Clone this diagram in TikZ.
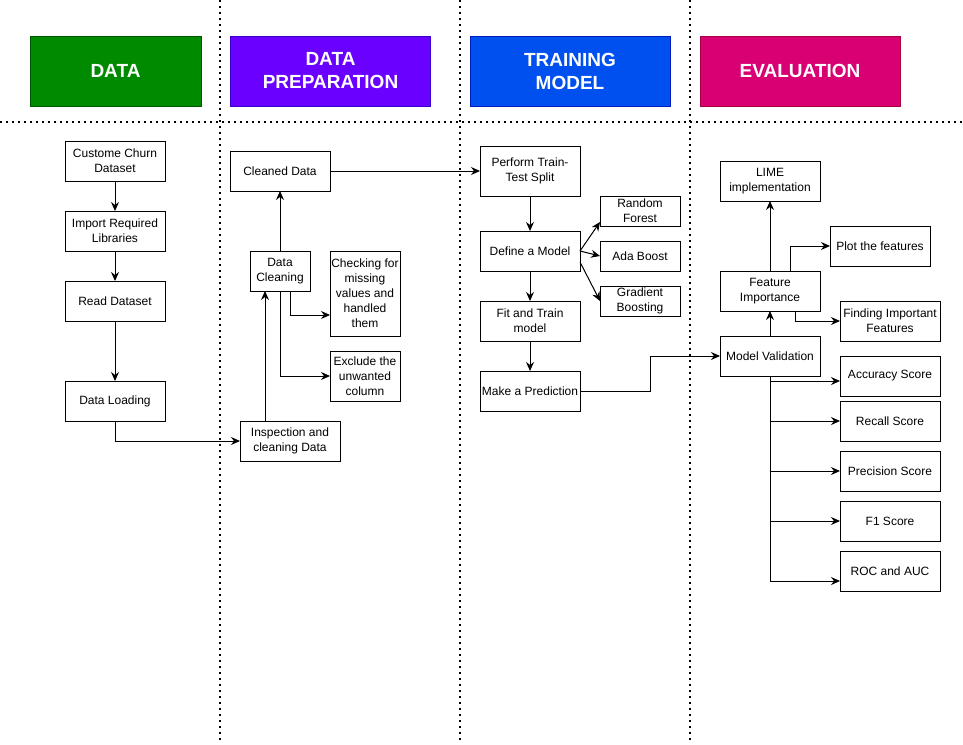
\documentclass[tikz,border=0pt]{standalone}
\usepackage{fontspec}
\setmainfont{Liberation Sans}
\usepackage{tikz}
\usetikzlibrary{positioning,arrows.meta}
\definecolor{dgreen}{HTML}{008A00}
\definecolor{dgreenl}{HTML}{005700}
\definecolor{dpurple}{HTML}{6A00FF}
\definecolor{dpurplel}{HTML}{3700CC}
\definecolor{dblue}{HTML}{0050EF}
\definecolor{dbluel}{HTML}{001DBC}
\definecolor{dpink}{HTML}{D80073}
\definecolor{dpinkl}{HTML}{A50040}
\tikzset{
 h/.style
  = {rectangle, draw, line width=1pt, minimum width=200pt, minimum height=70pt,
     text=white, align=center, font=\bfseries\fontsize{19}{23}\selectfont},
 b/.style
  = {rectangle, draw, line width=1pt, minimum width=100pt, minimum height=40pt,
     inner sep=1pt, outer sep=0pt, align=center, font=\fontsize{12}{15}\selectfont},
 s/.style
  = {b, minimum width=80pt, minimum height=30pt},
 l/.style
  = {draw, -{Stealth[length=9pt,width=8pt,inset=3pt]}, line width=1pt},
 dl/.style
  = {draw, line width=1.5pt, dash pattern=on 1.5pt off 4.5pt}
}
\begin{document}
\begin{tikzpicture}[x=1pt, y=-1pt]
    \useasboundingbox (0,0) rectangle (963,744);
    % lanes
    \path [dl] (0,122) -- (963,122);
    \path [dl] (220,0) -- (220,744);
    \path [dl] (460,0) -- (460,744);
    \path [dl] (690,0) -- (690,744);

    % headers
    \node [h, minimum width=171pt, fill=dgreen, draw=dgreenl] (data) at (115.5,71) {DATA};
    \node [h, fill=dpurple, draw=dpurplel] (preparation) at (330.5,71) {DATA\\PREPARATION};
    \node [h, fill=dblue, draw=dbluel] (training) at (570,71) {TRAINING\\MODEL};
    \node [h, fill=dpink, draw=dpinkl] (evaluation) at (800,71) {EVALUATION};

    % data
    \node [b] (custome) at (115,161) {Custome Churn\\Dataset};
    \node [b, below = 30pt of custome] (import) {Import Required\\Libraries};
    \node [b, below = 30pt of import] (read) {Read Dataset};
    \node [b, below = 60pt of read] (loading) {Data Loading};

    % data preparation
    \node [b] (cleaned) at (280,171) {Cleaned Data};
    \node [b, minimum width=60pt, below = 60pt of cleaned] (cleaning) {Data\\Cleaning};
    \node [b, minimum width=70pt, minimum height=85pt] (checking) at (365,293.5) {Checking for\\missing\\values and\\handled\\them};
    \node [b, minimum width=70pt, minimum height=50pt] (exclude) at (365,376) {Exclude the\\unwanted\\column};
    \node [b] (inspection) at (290,441) {Inspection and\\cleaning Data};

    % training model
    \node [b, minimum height=50pt] (split) at (530,171) {Perform Train-\\Test Split};
    \node [b, below = 35pt of split] (define) {Define a Model};
    \node [b, below = 30pt of define] (fit) {Fit and Train\\model};
    \node [b, below = 30pt of fit] (predict) {Make a Prediction};
    \node [s] (forest) at (640,211) {Random\\Forest};
    \node [s, below = 15pt of forest] (ada) {Ada Boost};
    \node [s, below = 15pt of ada] (gradient) {Gradient\\Boosting};

    % evaluation
    \node [b] (lime) at (770,181) {LIME\\implementation};
    \node [b] (importance) at (770,291) {Feature\\Importance};
    \node [b, below = 25pt of importance] (validation) {Model Validation};
    \node [b] (plot) at (880,246) {Plot the features};
    \node [b] (finding) at (890,321) {Finding Important\\Features};
    \node [b] (accuracy) at (890,376) {Accuracy Score};
    \node [b, below = 5pt of accuracy] (recall) {Recall Score};
    \node [b, below = 10pt of recall] (precision) {Precision Score};
    \node [b, below = 10pt of precision] (f1) {F1 Score};
    \node [b, below = 10pt of f1] (roc) {ROC and AUC};

    \path [l] (custome) -- (import);
    \path [l] (import) -- (read);
    \path [l] (read) -- (loading);
    \path [l] (loading) |- (inspection);

    \path [l] ([xshift=-25pt]inspection.north) -- ([xshift=-25pt]inspection.north |- cleaning.south);
    \path [l] (cleaning) -- (cleaned);
    \path [l] ([xshift=10pt]cleaning.south) |- ([yshift=-21.5pt]checking.west);
    \path [l] (cleaning.south) |- (exclude.west);
    \path [l] (cleaned) -- (split);

    \path [l] (split) -- (define);
    \path [l] (define) -- (fit);
    \path [l] (fit) -- (predict);
    \path [l] (define.east) -- ([yshift=4pt]forest.south west);
    \path [l] (define.east) -- (ada.west);
    \path [l] ([yshift=-11pt]define.east) -- (gradient.west);
    \path [l] (predict.east) -- ++(70pt,0) |- (validation.west);

    \path [l] (validation) -- (importance);
    \path [l] (importance) -- (lime);
    \path [l] ([xshift=20pt]importance.north) |- (plot.west);
    \path [l] ([xshift=25pt]importance.south) |- (finding.west);
    \path [l] (validation.south) |- ([yshift=-5pt]accuracy.west);
    \path [l] (validation.south) |- (recall.west);
    \path [l] (validation.south) |- (precision.west);
    \path [l] (validation.south) |- (f1.west);
    \path [l] (validation.south) |- ([yshift=-10pt]roc.west);

\end{tikzpicture}
\end{document}
